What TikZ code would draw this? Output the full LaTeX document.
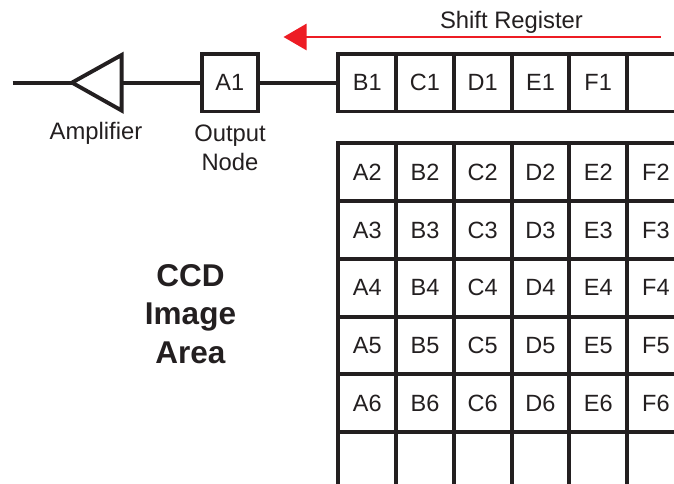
\documentclass[tikz,border=0pt]{standalone}
\usepackage{fontspec}
\setmainfont{Liberation Sans}
\usetikzlibrary{arrows.meta}
\definecolor{ink}{HTML}{231F20}
\definecolor{arrowred}{HTML}{ED1C24}
\tikzset{
  cell/.style={draw=ink,line width=3.9pt,minimum width=57.75pt,minimum height=57.75pt,inner sep=0pt,outer sep=0pt,text=ink,font=\fontsize{23.5pt}{26pt}\selectfont},
  wire/.style={draw=ink,line width=3.9pt},
  caption/.style={text=ink,inner sep=0pt,font=\fontsize{23.8pt}{29pt}\selectfont,align=center},
  heading/.style={text=ink,inner sep=0pt,font=\fontsize{31.5pt}{38.5pt}\selectfont\bfseries,align=center},
}
\begin{document}
\begin{tikzpicture}[x=1pt,y=-1pt]
\useasboundingbox (0,0) rectangle (674,484);
\clip (0,0) rectangle (674,484);
% shift register
\foreach \lab [count=\i from 0] in {B1,C1,D1,E1,F1,{}}{
  \node[cell] (reg\i) at (367.2+57.75*\i,82.6) {\lab};
}
% image area
\foreach \r [count=\j from 0] in {2,3,4,5,6}{
  \foreach \c [count=\i from 0] in {A,B,C,D,E,F}{
    \node[cell] (\c\r) at (367.2+57.75*\i,172.2+57.75*\j) {\c\r};
  }
}
\foreach \c [count=\i from 0] in {A,B,C,D,E,F}{
  \node[cell] (\c7) at (367.2+57.75*\i,461.0) {};
}
% output node
\node[cell,minimum width=56.5pt] (A1) at (229.8,82.6) {A1};
% amplifier
\coordinate (amptip) at (72,82.6);
\coordinate (ampback) at (121.6,82.6);
\coordinate (amptop) at (121.6,55);
\coordinate (ampbot) at (121.6,110.5);
\coordinate (inend) at (12.5,82.6);
\draw[wire,miter limit=10] (amptip) -- (amptop) -- (ampbot) -- cycle;
\draw[wire] (inend) -- (amptip);
\draw[wire] (ampback) -- (A1);
\draw[wire] (A1) -- (reg0);
% red arrow
\coordinate (arrowstart) at (660.5,37);
\coordinate (arrowend) at (283.5,37);
\draw[draw=arrowred,line width=2.6pt,-{Triangle[length=23pt,width=26pt]}] (arrowstart) -- (arrowend);
% labels
\node[caption] (shiftlabel) at (511.5,22.3) {Shift Register};
\node[caption] (amplabel) at (96,133.8) {Amplifier};
\node[caption] (outlabel) at (230,147.5) {Output\\Node};
\node[heading] (ccdlabel) at (190.5,314) {CCD\\Image\\Area};
\end{tikzpicture}
\end{document}
